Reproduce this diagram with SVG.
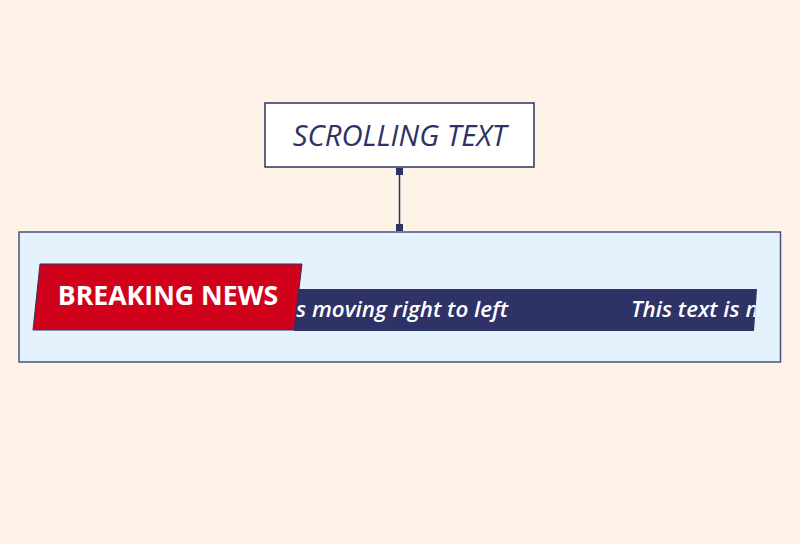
<svg xmlns="http://www.w3.org/2000/svg" width="800" height="544" viewBox="0 0 800 544">
<defs>
<style>
.title{font-family:"Open Sans","Noto Sans","Liberation Sans",sans-serif;font-style:italic;font-weight:400;font-size:29.3px;fill:#2e3264}
.brk{font-family:"Open Sans","Noto Sans","Liberation Sans",sans-serif;font-weight:700;font-size:26.7px;fill:#ffffff}
.scroll{font-family:"Open Sans","Noto Sans","Liberation Sans",sans-serif;font-style:italic;font-weight:600;font-size:22.4px;fill:#ffffff}
.end{fill:#2e3264}
</style>
<clipPath id="barClip"><polygon points="294,289 757,289 754,331 294,331"/></clipPath>
</defs>
<rect width="800" height="544" fill="#fdf3e6"/>
<g id="connectors">
<line x1="399.5" y1="171" x2="399.5" y2="228" stroke="#2e3264" stroke-width="1.5"/>
<rect class="end" x="396" y="168" width="7" height="7"/>
<rect class="end" x="396" y="224" width="7" height="7"/>
</g>
<g id="node-title">
<rect x="265" y="103" width="269" height="64" fill="#ffffff" stroke="#2e3264" stroke-width="1.5"/>
<text class="title" x="399.5" y="145.5" text-anchor="middle">SCROLLING TEXT</text>
</g>
<g id="node-ticker">
<rect x="19" y="232" width="761.5" height="130" fill="#e3f2fd" stroke="#4c5080" stroke-width="1.5"/>
<polygon points="294,289 757,289 754,331 294,331" fill="#2e3266"/>
<g clip-path="url(#barClip)">
<text class="scroll" x="508" y="316.5" text-anchor="end">This text is moving right to left</text>
<text class="scroll" x="631" y="316.5">This text is moving right to left</text>
</g>
<polygon points="40,264 302,264 294,330 33,330" fill="#d0021b" stroke="#2e3264" stroke-width="1"/>
<text class="brk" x="168" y="305" text-anchor="middle">BREAKING NEWS</text>
</g>
</svg>
